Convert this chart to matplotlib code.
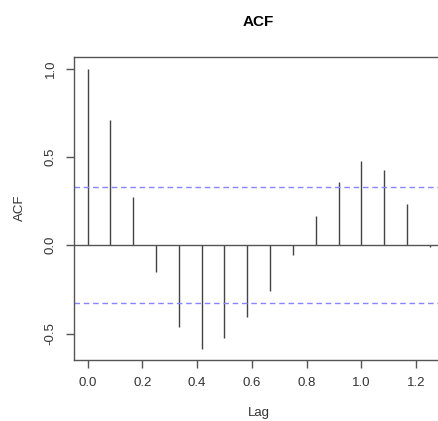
import matplotlib
matplotlib.use("Agg")
import matplotlib.pyplot as plt

# ACF values (monthly series, lags in years)
lags = [0, 1, 2, 3, 4, 5, 6, 7, 8, 9, 10, 11, 12, 13, 14, 15]
acf = [1.0, 0.709, 0.275, -0.15, -0.464, -0.587, -0.522, -0.404,
       -0.259, -0.057, 0.166, 0.356, 0.478, 0.426, 0.234, -0.01]
conf = 0.328
freq = 12

x_ticks = [0.0, 0.2, 0.4, 0.6, 0.8, 1.0, 1.2]
y_ticks = [-0.5, 0.0, 0.5, 1.0]

plt.rcParams["font.family"] = ["Liberation Sans", "DejaVu Sans"]

W, H = 438, 421
fig = plt.figure(figsize=(W / 100, H / 100), dpi=100)
ax = fig.add_axes([74 / W, 1 - 360 / H, (443.4 - 74) / W, (360 - 56.7) / H])

x = [l / freq for l in lags]
ax.vlines(x, 0, acf, color="#444444", linewidth=1.0)
ax.axhline(0, color="#555555", linewidth=1.0)
ax.axhline(conf, color="#8585ff", linewidth=1.0, linestyle=(0, (4, 2.7)))
ax.axhline(-conf, color="#8585ff", linewidth=1.0, linestyle=(0, (4, 2.7)))

ax.set_xlim(-0.05, 1.30)
ax.set_ylim(-0.649, 1.067)
ax.set_xticks(x_ticks)
ax.set_xticklabels([f"{t:.1f}" for t in x_ticks])
ax.set_yticks(y_ticks)
ax.set_yticklabels([f"{t:.1f}" for t in y_ticks], rotation=90, va="center")

for s in ax.spines.values():
    s.set_color("#555555")
    s.set_linewidth(1.0)
ax.tick_params(direction="out", length=6, width=1.0, color="#555555",
               labelsize=9.5, labelcolor="#333333", pad=6.5)

# axis titles and main title placed like R's base graphics
fig.text(258.5 / W, 1 - 413 / H, "Lag", fontsize=9.5, color="#333333",
         ha="center", va="center")
fig.text(19.5 / W, 1 - 208 / H, "ACF", fontsize=9.5, color="#333333",
         ha="center", va="center", rotation=90)
fig.text(258.5 / W, 1 - 22 / H, "ACF", fontsize=11, fontweight="bold",
         ha="center", va="center")

fig.savefig("out.png", dpi=100)
